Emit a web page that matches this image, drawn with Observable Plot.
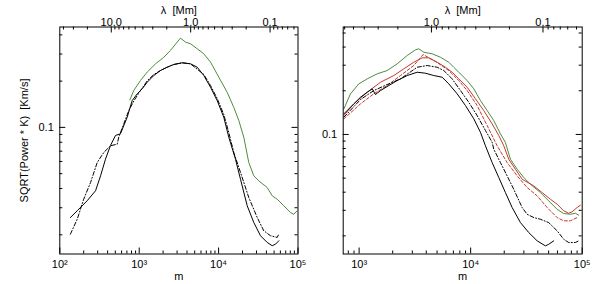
<!DOCTYPE html>
<html>
<head>
<meta charset="utf-8">
<script src="https://cdn.jsdelivr.net/npm/d3@7"></script>
<script src="https://cdn.jsdelivr.net/npm/@observablehq/plot@0.6"></script>
<style>
  html, body { margin: 0; padding: 0; background: #fff; }
  #wrap { position: relative; width: 600px; height: 284px; }
  #wrap svg { position: absolute; top: 0; overflow: visible; }
</style>
</head>
<body>
<div id="wrap"></div>
<script>
// ---------- data: [m, SQRT(Power*K) in Km/s] ----------
const leftGreen = [[762,0.151],[855,0.174],[1038,0.202],[1262,0.229],[1604,0.259],[2042,0.286],[2478,0.317],[3010,0.359],[3313,0.381],[3831,0.359],[4429,0.350],[5373,0.325],[6511,0.301],[7907,0.266],[10070,0.212],[12840,0.169],[15530,0.135],[17950,0.111],[20750,0.0864],[23990,0.0591],[27750,0.0484],[32080,0.0449],[40930,0.0406],[47320,0.0359],[54700,0.0341],[66220,0.0309],[80460,0.0279],[88570,0.0272],[97700,0.0287]];
const leftBlack = [[136,0.0259],[166,0.0287],[221,0.0333],[282,0.0387],[326,0.0484],[376,0.0621],[435,0.0763],[503,0.0886],[581,0.0909],[706,0.1165],[817,0.1496],[944,0.1654],[1091,0.1783],[1262,0.1968],[1528,0.2176],[1854,0.2345],[2253,0.2465],[2729,0.2566],[3483,0.2632],[4429,0.2592],[5373,0.2465],[6511,0.2176],[7907,0.1826],[9590,0.1496],[11620,0.1165],[13430,0.0864],[16320,0.0621],[18870,0.046],[22930,0.0309],[27750,0.02405],[33700,0.01972],[40930,0.01783],[47320,0.01698],[52080,0.01738],[57340,0.01829]];
const leftBlackDash = [[136,0.0202],[166,0.0253],[200,0.0341],[244,0.0438],[296,0.0591],[358,0.0687],[435,0.0759],[528,0.0778],[553,0.0864],[640,0.1055],[740,0.1288],[855,0.1485],[1038,0.1738],[1273,0.2019],[1528,0.2208],[1854,0.2345],[2253,0.2465],[2729,0.2566],[3483,0.2632],[4429,0.2592],[6511,0.2208],[7907,0.1874],[9590,0.1542],[11620,0.1213],[13430,0.0927],[15530,0.0687],[18870,0.0509],[23990,0.035],[30620,0.02594],[37070,0.02124],[45080,0.01972],[54700,0.01922],[57340,0.0202]];

const rightGreen = [[730,0.150],[837,0.1905],[994,0.2232],[1182,0.2416],[1452,0.2616],[1786,0.2757],[2195,0.3066],[2698,0.3498],[3200,0.3828],[3427,0.389],[3800,0.3686],[4519,0.3594],[5361,0.3405],[6362,0.3145],[7057,0.2904],[7823,0.2684],[9305,0.2352],[10670,0.2062],[12240,0.1713],[14060,0.1461],[16110,0.1247],[18490,0.101],[20500,0.088],[22730,0.0675],[26110,0.0576],[29920,0.0505],[34360,0.04536],[42200,0.03977],[50070,0.03486],[59590,0.0305],[68260,0.0285],[78320,0.02818],[86830,0.02864],[93010,0.02775]];
const rightRed = [[730,0.1349],[897,0.1625],[1182,0.1953],[1556,0.2289],[2046,0.2546],[2515,0.2832],[3090,0.3145],[3674,0.3372],[4213,0.3372],[5010,0.3145],[5946,0.2904],[6825,0.2684],[7823,0.2416],[9305,0.2115],[11040,0.176],[13110,0.1461],[15580,0.1183],[17870,0.0983],[19810,0.0835],[21940,0.0675],[25200,0.0576],[28940,0.0491],[36770,0.04424],[43720,0.03977],[51880,0.03576],[59590,0.03304],[68260,0.02976],[75680,0.02864],[81210,0.0293],[89990,0.03135],[96340,0.0325]];
const rightRedDash = [[730,0.1281],[1029,0.1625],[1355,0.1905],[1786,0.2173],[2350,0.2546],[3090,0.2985],[3750,0.3553],[5010,0.313],[6362,0.2757],[7823,0.2352],[9305,0.2006],[11430,0.1582],[14060,0.1152],[17280,0.0835],[21230,0.064],[26110,0.0518],[32090,0.04306],[39450,0.03774],[48480,0.03135],[59590,0.02675],[68260,0.02538],[78320,0.02538],[89990,0.02675]];
const rightBlack = [[730,0.1387],[897,0.1625],[1029,0.1805],[1182,0.1953],[1310,0.2062],[1402,0.1884],[1556,0.2006],[1845,0.2173],[2195,0.2352],[2698,0.2546],[3315,0.2684],[3936,0.2641],[4670,0.2546],[5555,0.2479],[6362,0.2232],[7570,0.1905],[8980,0.1582],[10670,0.1281],[12240,0.1035],[13570,0.0835],[15580,0.064],[17870,0.0505],[20500,0.03977],[23550,0.03135],[27940,0.02471],[33160,0.02109],[39450,0.01848],[46770,0.01707],[50070,0.0175],[55550,0.01848]];
const rightBlackDash = [[730,0.1314],[1029,0.174],[1355,0.2006],[1786,0.2208],[2350,0.2416],[3315,0.2904],[4074,0.2985],[5010,0.2904],[5741,0.2757],[6825,0.2416],[8104,0.2006],[9613,0.1667],[11430,0.1349],[13570,0.1064],[15580,0.0884],[16110,0.0791],[18490,0.064],[21230,0.0518],[24330,0.0419],[28940,0.03135],[32090,0.02818],[36770,0.02675],[42210,0.02603],[50070,0.02471],[59590,0.02166],[68260,0.01895],[75680,0.01799],[86830,0.01799],[93010,0.01848]];

// ---------- axes ----------
const mMajor = [100, 1000, 10000, 100000];
const mMajorLabels = ["10\u00b2", "10\u00b3", "10\u2074", "10\u2075"];
const mMinor = [200,300,400,500,600,700,800,900,2000,3000,4000,5000,6000,7000,8000,9000,20000,30000,40000,50000,60000,70000,80000,90000];
const lamMajor = [10, 1, 0.1];
const lamMajorLabels = ["10.0", "1.0", "0.1"];
const lamMinor = [40,30,20,9,8,7,6,5,4,3,2,0.9,0.8,0.7,0.6,0.5,0.4,0.3,0.2,0.09,0.08,0.07,0.06,0.05];
const lamToM = 4450; // lambda [Mm] ~ 2*pi*R_sun / m
const yMajor = [0.1];
const yMajorLabels = ["0.1"];
const yMinor = [0.02,0.03,0.04,0.05,0.06,0.07,0.08,0.09,0.2,0.3,0.4,0.5];

const GREEN = "#4f8a3c", RED = "#c0392f", BLACK = "#000";
const FONT = "'Liberation Sans', Arial, Helvetica, sans-serif";

function panel({xDomain, yDomain, marginLeft, marginRight, series, yLabel, left}) {
  const width = 300, height = 284, marginTop = 26.5, marginBottom = 30.5;
  const ph = height - marginTop - marginBottom;
  const pw = width - marginLeft - marginRight;
  const inX = d => d >= xDomain[0] * 0.999 && d <= xDomain[1] * 1.001;
  const inY = d => d >= yDomain[0] && d <= yDomain[1];
  const bMaj = mMajor.map((d, i) => ({d, t: mMajorLabels[i]})).filter(o => inX(o.d));
  const tMaj = lamMajor.map((l, i) => ({d: lamToM / l, t: lamMajorLabels[i]})).filter(o => inX(o.d));
  const tMin = lamMinor.map(l => lamToM / l).filter(inX);
  const yMaj = yMajor.map((d, i) => ({d, t: yMajorLabels[i]})).filter(o => inY(o.d));
  const yMin = yMinor.filter(inY);
  const marks = [];
  for (const s of series) {
    marks.push(Plot.line(s.data, {x: d => d[0], y: d => d[1], stroke: s.color, strokeWidth: 1, strokeDasharray: s.dash, clip: true}));
  }
  marks.push(
    Plot.frame({stroke: BLACK, strokeWidth: 1}),
    Plot.tickX(bMaj, {x: "d", insetTop: ph - 6, stroke: BLACK}),
    Plot.tickX(mMinor.filter(inX), {x: d => d, insetTop: ph - 3, stroke: BLACK}),
    Plot.tickX(tMaj, {x: "d", insetBottom: ph - 6, stroke: BLACK}),
    Plot.tickX(tMin, {x: d => d, insetBottom: ph - 3, stroke: BLACK}),
    Plot.tickY(yMaj, {y: "d", insetRight: pw - 6, stroke: BLACK}),
    Plot.tickY(yMaj, {y: "d", insetLeft: pw - 6, stroke: BLACK}),
    Plot.tickY(yMin, {y: d => d, insetRight: pw - 3, stroke: BLACK}),
    Plot.tickY(yMin, {y: d => d, insetLeft: pw - 3, stroke: BLACK}),
    // tick labels
    Plot.text(bMaj, {x: "d", text: "t", frameAnchor: "bottom", dy: 13.5, fontSize: 11}),
    Plot.text(tMaj, {x: "d", text: "t", frameAnchor: "top", dy: -9, fontSize: 11}),
    Plot.text(yMaj, {y: "d", text: "t", frameAnchor: "left", dx: -6, textAnchor: "end", fontSize: 11}),
    // axis titles
    Plot.text(["\u03bb  [Mm]"], {frameAnchor: "top", dy: -20.5, fontSize: 11}),
    Plot.text(["m"], {frameAnchor: "bottom", dy: 26, fontSize: 11})
  );
  if (yLabel) {
    const yMid = Math.sqrt(yDomain[0] * yDomain[1]);
    marks.push(Plot.text([yLabel], {y: () => yMid, frameAnchor: "left", textAnchor: "middle", dx: -35, rotate: -90, fontSize: 11}));
  }
  const svg = Plot.plot({
    width, height, marginTop, marginBottom, marginLeft, marginRight,
    x: {type: "log", domain: xDomain, axis: null},
    y: {type: "log", domain: yDomain, axis: null},
    style: {fontFamily: FONT, fontSize: "11px", color: "#000", background: "transparent", overflow: "visible"},
    marks
  });
  svg.style.left = left + "px";
  return svg;
}

const wrap = document.getElementById("wrap");
wrap.appendChild(panel({
  xDomain: [100, 100000], yDomain: [0.015, 0.45], marginLeft: 59.3, marginRight: 2.5, left: 0,
  yLabel: "SQRT(Power * K)  [Km/s]",
  series: [
    {data: leftGreen, color: GREEN},
    {data: leftBlackDash, color: BLACK, dash: "4,2,1,2"},
    {data: leftBlack, color: BLACK}
  ]
}));
wrap.appendChild(panel({
  xDomain: [720, 100000], yDomain: [0.015, 0.55], marginLeft: 42.7, marginRight: 18.3, left: 300,
  series: [
    {data: rightGreen, color: GREEN},
    {data: rightRedDash, color: RED, dash: "3,2"},
    {data: rightRed, color: RED},
    {data: rightBlackDash, color: BLACK, dash: "4,2,1,2"},
    {data: rightBlack, color: BLACK}
  ]
}));
</script>
</body>
</html>
